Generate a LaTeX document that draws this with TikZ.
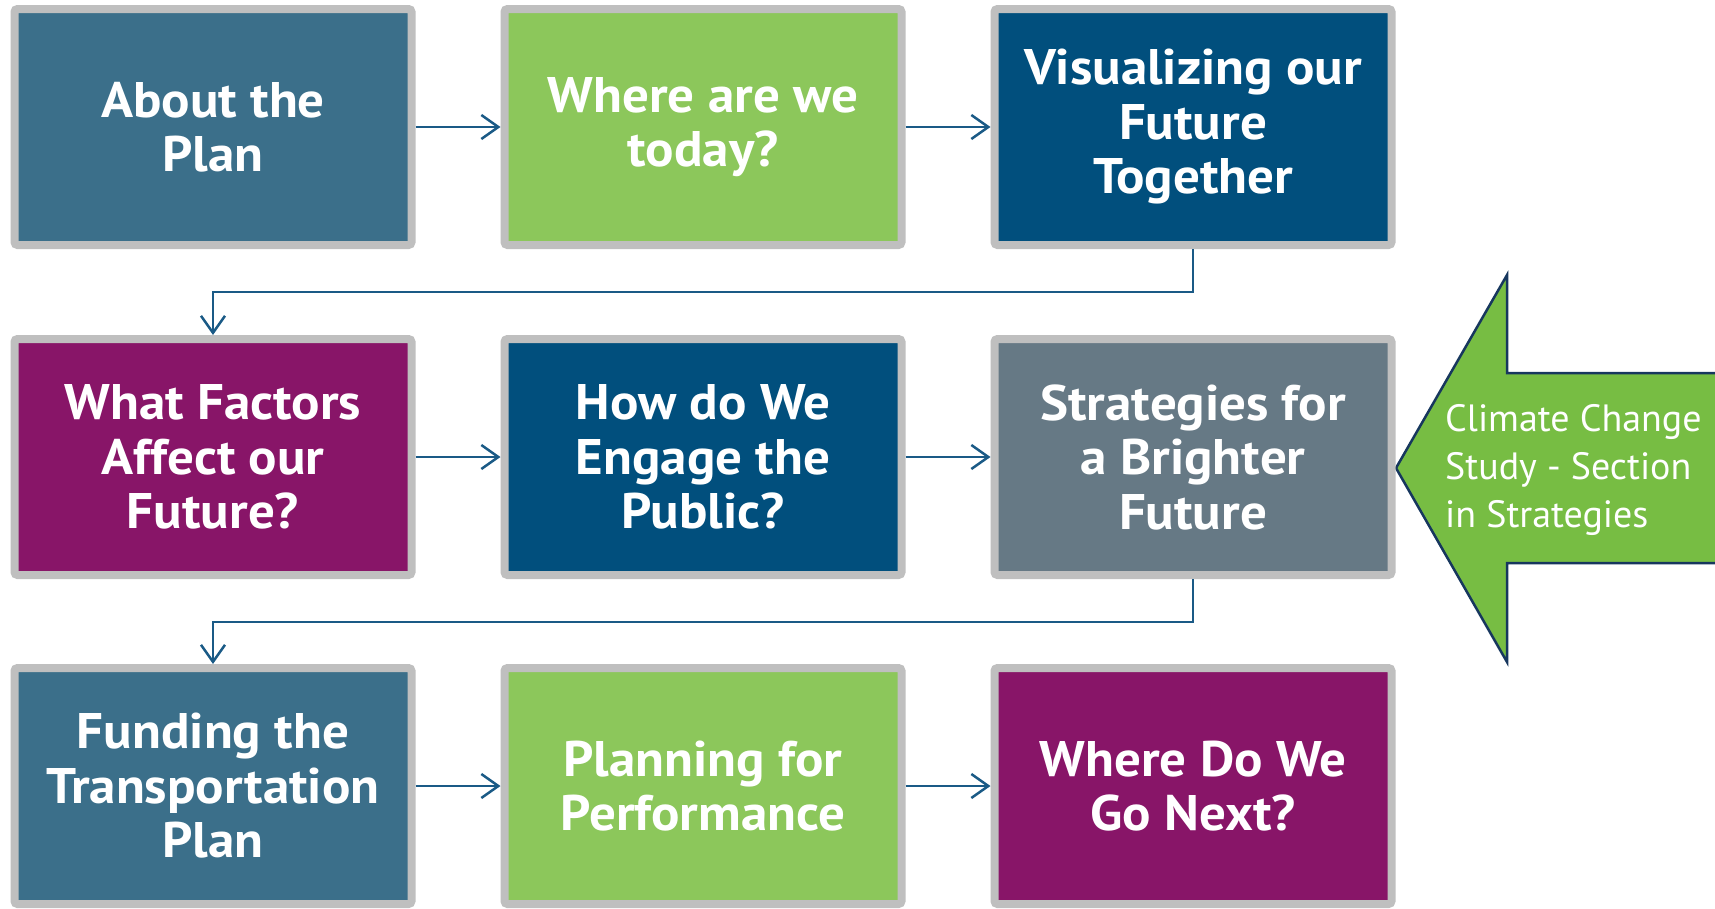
\documentclass[tikz,border=0pt]{standalone}
\usepackage{fontspec}
\setmainfont{PT Sans}
\newfontfamily\boxfont{PT Sans}[FakeStretch=1.06]
\usetikzlibrary{arrows.meta}
\definecolor{steel}{HTML}{3B6F8A}
\definecolor{lgreen}{HTML}{8CC75B}
\definecolor{navy}{HTML}{014F7D}
\definecolor{purp}{HTML}{881568}
\definecolor{slate}{HTML}{667985}
\definecolor{bgray}{HTML}{BFBFBF}
\definecolor{conn}{HTML}{1A5A86}
\definecolor{agreen}{HTML}{77BD43}
\definecolor{aline}{HTML}{17375E}
\tikzset{
  boxnode/.style={draw=bgray, line width=8pt, rounded corners=3pt, minimum width=397pt, minimum height=236pt,
    inner sep=0pt, text=white, align=center, font=\boxfont\fontsize{50}{54.5}\selectfont\bfseries},
  connline/.style={draw=conn, line width=2.5pt, -{Straight Barb[length=17pt,width=24pt,line width=2.5pt]}},
}
\begin{document}
\begin{tikzpicture}[x=1pt,y=-1pt]
\useasboundingbox (0,0) rectangle (1715,908);
% block arrow
\filldraw[fill=agreen, draw=aline, line width=2.5pt]
  (1396,468) -- (1507,275) -- (1507,373) -- (1730,373) -- (1730,563) -- (1507,563) -- (1507,662) -- cycle;
\node[anchor=north west, text=white, align=left, inner sep=0pt, font=\fontsize{38}{48}\selectfont] (clim) at (1445,404)
  {Climate Change\\Study - Section\\in Strategies};
% boxes
\node[boxnode, fill=steel]  (b1) at (213,127) {About the\\Plan};
\node[boxnode, fill=lgreen] (b2) at (703,127) {Where are we\\today?};
\node[boxnode, fill=navy]   (b3) at (1193,127) {Visualizing our\\Future\\Together};
\node[boxnode, fill=purp]   (b4) at (213,457) {What Factors\\Affect our\\Future?};
\node[boxnode, fill=navy]   (b5) at (703,457) {How do We\\Engage the\\Public?};
\node[boxnode, fill=slate]  (b6) at (1193,457) {Strategies for\\a Brighter\\Future};
\node[boxnode, fill=steel]  (b7) at (213,786) {Funding the\\Transportation\\Plan};
\node[boxnode, fill=lgreen] (b8) at (703,786) {Planning for\\Performance};
\node[boxnode, fill=purp]   (b9) at (1193,786) {Where Do We\\Go Next?};
% connectors
\coordinate (m1) at (0,292);
\coordinate (m2) at (0,622);
\draw[connline] (b1) -- (b2);
\draw[connline] (b2) -- (b3);
\draw[connline] (b4) -- (b5);
\draw[connline] (b5) -- (b6);
\draw[connline] (b7) -- (b8);
\draw[connline] (b8) -- (b9);
\draw[connline] (b3.south) -- (b3.south |- m1) -| (b4.north);
\draw[connline] (b6.south) -- (b6.south |- m2) -| (b7.north);
\end{tikzpicture}
\end{document}
